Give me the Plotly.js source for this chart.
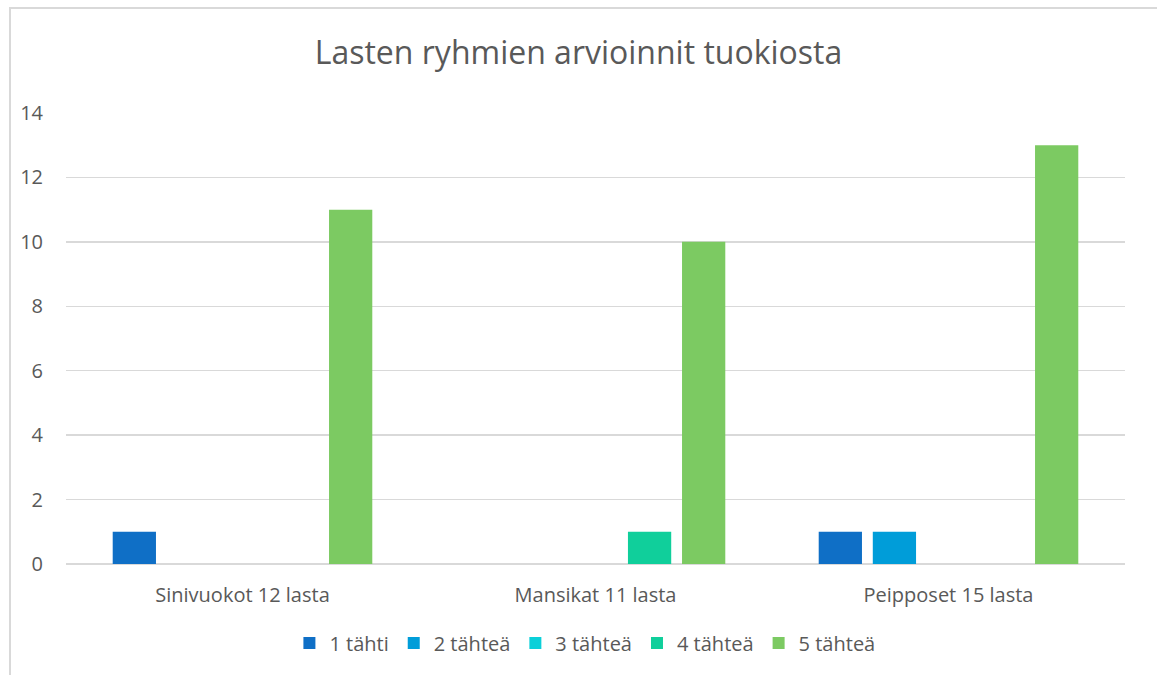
<!DOCTYPE html>
<html>
<head>
<meta charset="utf-8">
<script src="https://cdn.plot.ly/plotly-3.0.1.min.js"></script>
<style>
  html, body { margin: 0; padding: 0; background: #fff; }
  #chart { position: absolute; left: 0; top: 0; width: 1157px; height: 675px; }
  #frame { position: absolute; left: 9px; top: 7px; width: 1160px; height: 680px;
           border-top: 2px solid #d9d9d9; border-left: 2px solid #d9d9d9; pointer-events: none; }
</style>
</head>
<body>
<div id="chart"></div>
<div id="frame"></div>
<script>
const categories = ["Sinivuokot 12 lasta", "Mansikat 11 lasta", "Peipposet 15 lasta"];
const seriesNames = ["1 tähti", "2 tähteä", "3 tähteä", "4 tähteä", "5 tähteä"];
const s1 = [1, 0, 1];
const s2 = [0, 0, 1];
const s3 = [0, 0, 0];
const s4 = [0, 1, 0];
const s5 = [11, 10, 13];
const colors = ["#0F6FC6", "#009DD9", "#0BD0D9", "#10CF9B", "#7CCA62"];
const seriesValues = [s1, s2, s3, s4, s5];

const font = "'Open Sans', Lato, sans-serif";
const traces = seriesValues.map((vals, i) => ({
  type: "bar",
  name: seriesNames[i],
  x: categories,
  y: vals,
  marker: { color: colors[i] }
}));

const layout = {
  width: 1157, height: 675,
  margin: { l: 66, r: 32, t: 113, b: 111 },
  paper_bgcolor: "#ffffff", plot_bgcolor: "#ffffff",
  title: { text: "Lasten ryhmien arvioinnit tuokiosta", font: { family: font, size: 32, color: "#595959" },
           x: 0.5, xanchor: "center", y: 0.922, yanchor: "middle" },
  barmode: "group", bargap: 0.234, bargroupgap: 0.2,
  xaxis: { tickfont: { family: font, size: 20, color: "#595959" }, showline: false, ticks: "",
           showgrid: false, zeroline: false, fixedrange: true, ticklabelstandoff: 17 },
  yaxis: { range: [0, 14], dtick: 2, tickfont: { family: font, size: 20, color: "#595959" },
           gridcolor: "#d9d9d9", gridwidth: 1.5, zeroline: true, zerolinecolor: "#d9d9d9", zerolinewidth: 1.5,
           showline: false, ticks: "", ticklabelstandoff: 22, fixedrange: true },
  legend: { orientation: "h", x: 0.49, xanchor: "center", y: -0.175, yanchor: "middle",
            font: { family: font, size: 20, color: "#595959" }, itemwidth: 20, traceorder: "normal" },
  showlegend: true
};

Plotly.newPlot("chart", traces, layout, { displayModeBar: false, staticPlot: true });
</script>
</body>
</html>
